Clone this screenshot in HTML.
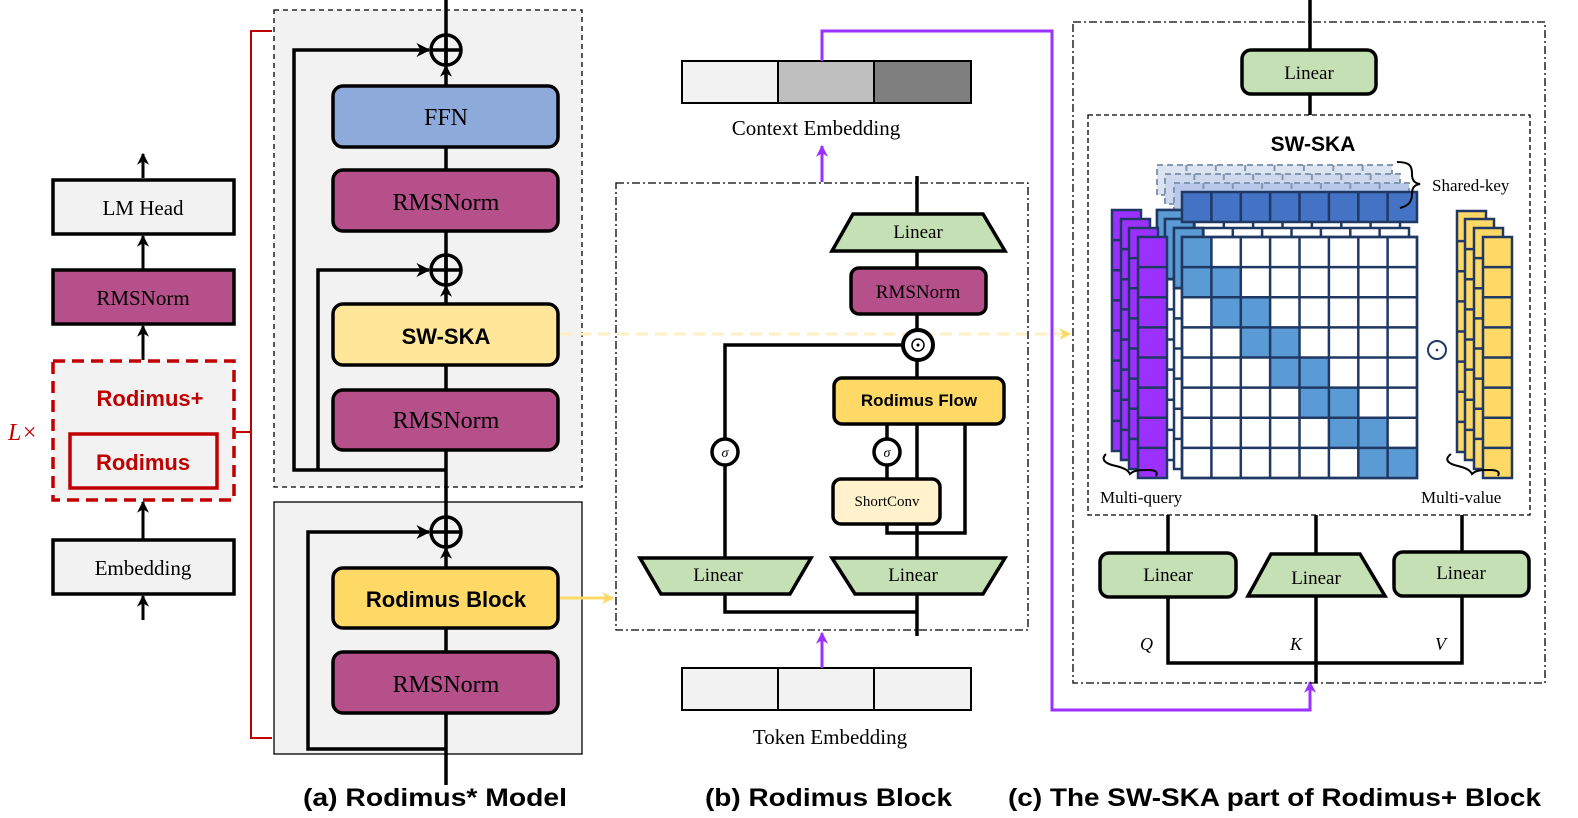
<!DOCTYPE html>
<html><head><meta charset="utf-8"><style>
html,body{margin:0;padding:0;background:#fff;}
svg{display:block;}
.s{font-family:"Liberation Serif",serif;}
.b{font-family:"Liberation Sans",sans-serif;font-weight:bold;}
</style></head><body>
<svg width="1578" height="818" viewBox="0 0 1578 818" xmlns="http://www.w3.org/2000/svg">
<defs>
<marker id="ah" viewBox="0 0 10 10" refX="9" refY="5" markerWidth="4" markerHeight="4" orient="auto"><path d="M0,0L10,5L0,10L3,5z" fill="#000"/></marker>
<marker id="ap" viewBox="0 0 10 10" refX="9" refY="5" markerWidth="4" markerHeight="4" orient="auto"><path d="M0,0L10,5L0,10L3,5z" fill="#9b30ff"/></marker>
<marker id="ay" viewBox="0 0 10 10" refX="9" refY="5" markerWidth="4" markerHeight="4" orient="auto"><path d="M0,0L10,5L0,10L3,5z" fill="#ffd966"/></marker>
<g id="col"><rect x="0" y="0" width="29" height="241"/><path fill="none" d="M0,30.1H29M0,60.3H29M0,90.4H29M0,120.5H29M0,150.6H29M0,180.8H29M0,210.9H29"/></g>
<g id="grid"><rect x="0" y="0" width="235" height="241"/><path fill="none" d="M29.4,0V241M58.8,0V241M88.1,0V241M117.5,0V241M146.9,0V241M176.3,0V241M205.6,0V241M0,30.1H235M0,60.3H235M0,90.4H235M0,120.5H235M0,150.6H235M0,180.8H235M0,210.9H235"/></g>
<g id="krow"><rect x="0" y="0" width="235" height="30"/><path fill="none" d="M29.4,0V30M58.8,0V30M88.1,0V30M117.5,0V30M146.9,0V30M176.3,0V30M205.6,0V30"/></g>
</defs>

<!-- ===== (a) left column ===== -->
<g stroke="#000" stroke-width="3" fill="none">
<line x1="143" y1="178" x2="143" y2="154" marker-end="url(#ah)"/>
<line x1="143" y1="270" x2="143" y2="236" marker-end="url(#ah)"/>
<line x1="143" y1="360" x2="143" y2="326" marker-end="url(#ah)"/>
<line x1="143" y1="540" x2="143" y2="502" marker-end="url(#ah)"/>
<line x1="143" y1="620" x2="143" y2="596" marker-end="url(#ah)"/>
</g>
<rect x="53" y="180" width="181" height="54" fill="#f2f2f2" stroke="#000" stroke-width="3.5"/>
<text x="143" y="215" class="s" font-size="21" text-anchor="middle">LM Head</text>
<rect x="53" y="270" width="181" height="54" fill="#b5508a" stroke="#000" stroke-width="3.5"/>
<text x="143" y="305" class="s" font-size="21" text-anchor="middle">RMSNorm</text>
<rect x="53" y="361" width="181" height="139" fill="#f2f2f2" stroke="#c00000" stroke-width="3.5" stroke-dasharray="12,7"/>
<text x="150" y="406" class="b" font-size="22" fill="#c00000" text-anchor="middle">Rodimus+</text>
<rect x="70" y="434" width="147" height="54" fill="#f2f2f2" stroke="#c00000" stroke-width="3.5"/>
<text x="143" y="470" class="b" font-size="22" fill="#c00000" text-anchor="middle">Rodimus</text>
<rect x="53" y="540" width="181" height="54" fill="#f2f2f2" stroke="#000" stroke-width="3.5"/>
<text x="143" y="575" class="s" font-size="21" text-anchor="middle">Embedding</text>
<text x="8" y="440" class="s" font-size="24" font-style="italic" fill="#c00000">L×</text>
<path d="M272,31 H251 V738 H272 M251,432 H236" fill="none" stroke="#c00000" stroke-width="2"/>

<!-- gray boxes -->
<rect x="274" y="10" width="308" height="477" fill="#f2f2f2" stroke="#000" stroke-width="1.3" stroke-dasharray="5,4"/>
<rect x="274" y="502" width="308" height="252" fill="#f2f2f2" stroke="#000" stroke-width="1.3"/>

<g stroke="#000" stroke-width="3.5" fill="none">
<line x1="446" y1="0" x2="446" y2="785"/>
<path d="M446,470 H294 V50 H429" marker-end="url(#ah)"/>
<path d="M318,470 V270 H429" marker-end="url(#ah)"/>
<path d="M446,749 H308 V532 H429" marker-end="url(#ah)"/>
</g>
<g stroke="#000" stroke-width="3" fill="none">
<line x1="446" y1="86" x2="446" y2="66" marker-end="url(#ah)"/>
<line x1="446" y1="304" x2="446" y2="286" marker-end="url(#ah)"/>
<line x1="446" y1="568" x2="446" y2="548" marker-end="url(#ah)"/>
</g>
<g stroke="#000" stroke-width="3.5" fill="none">
<circle cx="446" cy="50" r="15"/><path d="M431,50H461M446,35V65"/>
<circle cx="446" cy="270" r="15"/><path d="M431,270H461M446,255V285"/>
<circle cx="446" cy="532" r="15"/><path d="M431,532H461M446,517V547"/>
</g>
<g stroke="#000" stroke-width="3.5">
<rect x="333" y="86" width="225" height="61" rx="10" fill="#8eaadb"/>
<rect x="333" y="170" width="225" height="61" rx="10" fill="#b5508a"/>
<rect x="333" y="304" width="225" height="61" rx="10" fill="#ffe699"/>
<rect x="333" y="390" width="225" height="60" rx="10" fill="#b5508a"/>
<rect x="333" y="568" width="225" height="60" rx="10" fill="#ffd966"/>
<rect x="333" y="652" width="225" height="61" rx="10" fill="#b5508a"/>
</g>
<text x="446" y="125" class="s" font-size="24" text-anchor="middle">FFN</text>
<text x="446" y="210" class="s" font-size="24" text-anchor="middle">RMSNorm</text>
<text x="446" y="344" class="b" font-size="22" text-anchor="middle">SW-SKA</text>
<text x="446" y="428" class="s" font-size="24" text-anchor="middle">RMSNorm</text>
<text x="446" y="607" class="b" font-size="22" text-anchor="middle">Rodimus Block</text>
<text x="446" y="692" class="s" font-size="24" text-anchor="middle">RMSNorm</text>

<line x1="560" y1="334" x2="1070" y2="334" stroke="#fff0c4" stroke-width="3" stroke-dasharray="12,7" marker-end="url(#ay)"/>
<line x1="560" y1="598" x2="613" y2="598" stroke="#ffd966" stroke-width="3" marker-end="url(#ay)"/>

<!-- ===== (b) ===== -->
<rect x="682" y="61" width="96" height="42" fill="#f2f2f2" stroke="#000" stroke-width="2"/>
<rect x="778" y="61" width="96" height="42" fill="#bfbfbf" stroke="#000" stroke-width="2"/>
<rect x="874" y="61" width="97" height="42" fill="#7f7f7f" stroke="#000" stroke-width="2"/>
<text x="816" y="135" class="s" font-size="21" text-anchor="middle">Context Embedding</text>
<rect x="682" y="668" width="96" height="42" fill="#f2f2f2" stroke="#000" stroke-width="2"/>
<rect x="778" y="668" width="96" height="42" fill="#f2f2f2" stroke="#000" stroke-width="2"/>
<rect x="874" y="668" width="97" height="42" fill="#f2f2f2" stroke="#000" stroke-width="2"/>
<text x="830" y="744" class="s" font-size="21" text-anchor="middle">Token Embedding</text>

<g stroke="#9b30ff" stroke-width="3" fill="none">
<line x1="822" y1="182" x2="822" y2="146" marker-end="url(#ap)"/>
<line x1="822" y1="668" x2="822" y2="633" marker-end="url(#ap)"/>
<path d="M822,61 V31 H1052 V710 H1310 V682" marker-end="url(#ap)"/>
</g>

<rect x="616" y="183" width="412" height="447" fill="none" stroke="#000" stroke-width="1.3" stroke-dasharray="8,3,2,3"/>

<g stroke="#000" stroke-width="3.5" fill="none">
<line x1="917" y1="176" x2="917" y2="636"/>
<path d="M903,345 H725 V558"/>
<path d="M887,424 V479"/>
<path d="M965,424 V533 H887 V522"/>
<path d="M725,594 V612 H917"/>
</g>
<polygon points="853,214 983,214 1005,251 832,251" fill="#c5e0b4" stroke="#000" stroke-width="3.5"/>
<text x="918" y="238" class="s" font-size="19" text-anchor="middle">Linear</text>
<rect x="851" y="268" width="135" height="46" rx="8" fill="#b5508a" stroke="#000" stroke-width="3.5"/>
<text x="918" y="298" class="s" font-size="19" text-anchor="middle">RMSNorm</text>
<circle cx="918" cy="345" r="15" fill="#fff" stroke="#000" stroke-width="4"/>
<circle cx="918" cy="345" r="6" fill="none" stroke="#000" stroke-width="1.5"/>
<circle cx="918" cy="345" r="1.5" fill="#000"/>
<rect x="834" y="378" width="170" height="46" rx="8" fill="#ffd966" stroke="#000" stroke-width="3.5"/>
<text x="919" y="406" class="b" font-size="17" text-anchor="middle">Rodimus Flow</text>
<circle cx="725" cy="452" r="13" fill="#fff" stroke="#000" stroke-width="3.5"/>
<text x="725" y="457" class="s" font-size="14" font-style="italic" text-anchor="middle">σ</text>
<circle cx="887" cy="452" r="13" fill="#fff" stroke="#000" stroke-width="3.5"/>
<text x="887" y="457" class="s" font-size="14" font-style="italic" text-anchor="middle">σ</text>
<rect x="833" y="479" width="107" height="45" rx="8" fill="#fff2cc" stroke="#000" stroke-width="3.5"/>
<text x="887" y="506" class="s" font-size="15" text-anchor="middle">ShortConv</text>
<polygon points="640,558 811,558 790,594 661,594" fill="#c5e0b4" stroke="#000" stroke-width="3.5"/>
<text x="718" y="581" class="s" font-size="19" text-anchor="middle">Linear</text>
<polygon points="832,558 1005,558 983,594 855,594" fill="#c5e0b4" stroke="#000" stroke-width="3.5"/>
<text x="913" y="581" class="s" font-size="19" text-anchor="middle">Linear</text>

<!-- ===== (c) ===== -->
<rect x="1073" y="22" width="472" height="661" fill="none" stroke="#000" stroke-width="1.3" stroke-dasharray="8,3,2,3"/>
<g stroke="#000" stroke-width="3.5" fill="none">
<line x1="1310" y1="0" x2="1310" y2="115"/>
<line x1="1168" y1="515" x2="1168" y2="553"/>
<line x1="1316" y1="515" x2="1316" y2="555"/>
<line x1="1462" y1="515" x2="1462" y2="552"/>
<path d="M1168,597 V663 H1462 V596"/>
<line x1="1316" y1="596" x2="1316" y2="683"/>
</g>
<rect x="1242" y="50" width="134" height="44" rx="9" fill="#c5e0b4" stroke="#000" stroke-width="3.5"/>
<text x="1309" y="79" class="s" font-size="19" text-anchor="middle">Linear</text>
<rect x="1088" y="115" width="442" height="400" fill="#fff" stroke="#000" stroke-width="1.3" stroke-dasharray="5,3"/>
<text x="1313" y="151" class="b" font-size="21" text-anchor="middle">SW-SKA</text>

<!-- key shadows -->
<g stroke="#8497b0" stroke-width="2" stroke-dasharray="6,4">
<use href="#krow" x="1157" y="165" fill="#dce4f2"/>
<use href="#krow" x="1165" y="174" fill="#cdd8ee"/>
<use href="#krow" x="1174" y="183" fill="#b8c8ea"/>
</g>
<!-- layers behind grid -->
<g stroke="#1f3864" stroke-width="2.5">
<use href="#grid" x="1157" y="210" fill="#fff"/>
<rect x="1157" y="210" width="29" height="60" fill="#5b9bd5"/>
<use href="#grid" x="1165" y="219" fill="#fff"/>
<rect x="1165" y="219" width="29" height="60" fill="#5b9bd5"/>
<use href="#grid" x="1174" y="228" fill="#fff"/>
<rect x="1174" y="228" width="29" height="60" fill="#5b9bd5"/>
</g>
<!-- key row -->
<use href="#krow" x="1182" y="192" fill="#4472c4" stroke="#1f3864" stroke-width="2.5"/>
<!-- main grid -->
<g transform="translate(1182,237)" stroke="#1f3864" stroke-width="2.5">
<rect width="235" height="241" fill="#fff"/>
<g fill="#5b9bd5" stroke="none">
<rect x="0" y="0" width="29.4" height="30.1"/>
<rect x="0" y="30.1" width="29.4" height="30.1"/><rect x="29.4" y="30.1" width="29.4" height="30.1"/>
<rect x="29.4" y="60.3" width="29.4" height="30.1"/><rect x="58.8" y="60.3" width="29.4" height="30.1"/>
<rect x="58.8" y="90.4" width="29.4" height="30.1"/><rect x="88.1" y="90.4" width="29.4" height="30.1"/>
<rect x="88.1" y="120.5" width="29.4" height="30.1"/><rect x="117.5" y="120.5" width="29.4" height="30.1"/>
<rect x="117.5" y="150.6" width="29.4" height="30.1"/><rect x="146.9" y="150.6" width="29.4" height="30.1"/>
<rect x="146.9" y="180.8" width="29.4" height="30.1"/><rect x="176.3" y="180.8" width="29.4" height="30.1"/>
<rect x="176.3" y="210.9" width="29.4" height="30.1"/><rect x="205.6" y="210.9" width="29.4" height="30.1"/>
</g>
<use href="#grid" fill="none"/>
</g>
<!-- purple query -->
<g stroke="#1f3864" stroke-width="2.5" fill="#9b30ff">
<use href="#col" x="1112" y="210"/>
<use href="#col" x="1121" y="219"/>
<use href="#col" x="1129" y="228"/>
<use href="#col" x="1138" y="237"/>
</g>
<!-- yellow value -->
<g stroke="#1f3864" stroke-width="2.5" fill="#ffd966">
<use href="#col" x="1457" y="211"/>
<use href="#col" x="1465" y="219"/>
<use href="#col" x="1474" y="228"/>
<use href="#col" x="1483" y="237"/>
</g>
<circle cx="1437" cy="350" r="9" fill="none" stroke="#1f3864" stroke-width="2"/>
<circle cx="1437" cy="350" r="1.3" fill="#1f3864"/>
<!-- braces -->
<g fill="none" stroke="#000" stroke-width="2">
<path d="M1397,162 C1410,162 1412,166 1412,174 C1412,180 1414,183 1420,184 C1414,185 1412,188 1412,194 C1412,202 1408,206 1400,208"/>
<path d="M1106,454 C1100,460 1106,464 1116,466 C1124,468 1128,470 1130,474 C1134,470 1140,470 1148,470 C1156,470 1158,472 1156,476"/>
<path d="M1451,454 C1443,460 1449,464 1458,466 C1466,468 1470,470 1472,474 C1476,470 1482,470 1490,470 C1498,470 1500,472 1498,476"/>
</g>
<text x="1432" y="191" class="s" font-size="17">Shared-key</text>
<text x="1100" y="503" class="s" font-size="17">Multi-query</text>
<text x="1421" y="503" class="s" font-size="17">Multi-value</text>

<rect x="1100" y="553" width="136" height="44" rx="9" fill="#c5e0b4" stroke="#000" stroke-width="3.5"/>
<text x="1168" y="581" class="s" font-size="19" text-anchor="middle">Linear</text>
<polygon points="1271,554 1360,554 1385,596 1248,596" fill="#c5e0b4" stroke="#000" stroke-width="3.5"/>
<text x="1316" y="584" class="s" font-size="19" text-anchor="middle">Linear</text>
<rect x="1394" y="552" width="135" height="44" rx="9" fill="#c5e0b4" stroke="#000" stroke-width="3.5"/>
<text x="1461" y="579" class="s" font-size="19" text-anchor="middle">Linear</text>
<text x="1140" y="650" class="s" font-size="18" font-style="italic">Q</text>
<text x="1290" y="650" class="s" font-size="18" font-style="italic">K</text>
<text x="1435" y="650" class="s" font-size="18" font-style="italic">V</text>

<!-- captions -->
<text x="303" y="806" class="b" font-size="25" textLength="264" lengthAdjust="spacingAndGlyphs">(a) Rodimus* Model</text>
<text x="705" y="806" class="b" font-size="25" textLength="247" lengthAdjust="spacingAndGlyphs">(b) Rodimus Block</text>
<text x="1008" y="806" class="b" font-size="25" textLength="533" lengthAdjust="spacingAndGlyphs">(c) The SW-SKA part of Rodimus+ Block</text>
</svg>
</body></html>
